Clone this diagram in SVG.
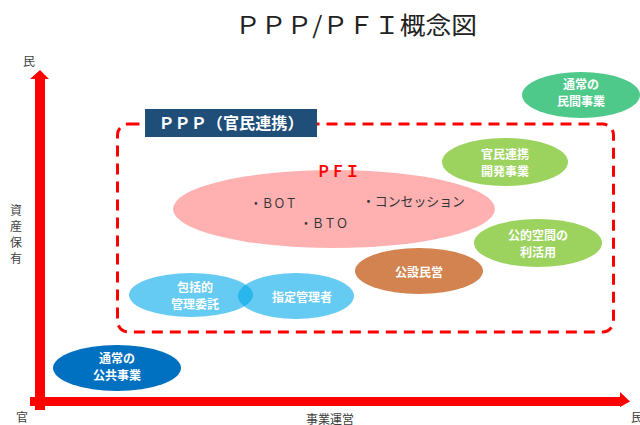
<svg xmlns="http://www.w3.org/2000/svg" width="640" height="425" viewBox="0 0 640 425">
<style>
.t{font-family:"Noto Sans CJK JP","Noto Sans",sans-serif;}
.w{fill:#fff;font-size:12px;font-weight:bold;text-anchor:middle;}
.g{fill:#404040;font-size:12px;}
.p{fill:#333;font-size:13px;}
</style>
<rect width="640" height="425" fill="#fff"/>
<text class="t" x="356" y="34" font-size="24" fill="#222" text-anchor="middle" textLength="242" lengthAdjust="spacingAndGlyphs">ＰＰＰ/ＰＦＩ概念図</text>
<g id="connectors">
  <path d="M35 410 V79 H30 L40 70 L49 79 H45 V410 Z" fill="#ff0000"/>
  <path d="M30 397 H620 V392 L630 401.5 L620 407 V406 H30 Z" fill="#ff0000"/>
</g>
<g id="axis-labels" class="t">
  <text class="g" x="29" y="66" text-anchor="middle">民</text>
  <text class="g" x="22" y="422" text-anchor="middle">官</text>
  <text class="g" x="631" y="422">民</text>
  <text class="g" x="16" y="215" text-anchor="middle">資</text>
  <text class="g" x="16" y="231" text-anchor="middle">産</text>
  <text class="g" x="16" y="247" text-anchor="middle">保</text>
  <text class="g" x="16" y="263" text-anchor="middle">有</text>
  <text class="g" x="330" y="424" text-anchor="middle">事業運営</text>
</g>
<g id="ppp-area">
  <rect x="117.5" y="124" width="496" height="208" rx="11" fill="none" stroke="#ff0000" stroke-width="3" stroke-dasharray="11 7"/>
  <rect x="145" y="109" width="172" height="28" fill="#1f4e79"/>
  <text class="t" x="231" y="129" font-size="16" font-weight="bold" fill="#fff" text-anchor="middle" textLength="145" lengthAdjust="spacingAndGlyphs">ＰＰＰ（官民連携）</text>
</g>
<g id="pfi">
  <ellipse cx="334" cy="209" rx="161" ry="39" fill="#ffb1b1"/>
  <text class="t" x="338" y="177" font-size="15" font-weight="bold" fill="#ff0000" text-anchor="middle" textLength="43" lengthAdjust="spacingAndGlyphs">ＰＦＩ</text>
  <text class="t p" x="250" y="208" textLength="47" lengthAdjust="spacingAndGlyphs">・ＢＯＴ</text>
  <text class="t p" x="300" y="228" textLength="48" lengthAdjust="spacingAndGlyphs">・ＢＴＯ</text>
  <text class="t p" x="362" y="206" textLength="103" lengthAdjust="spacingAndGlyphs">・コンセッション</text>
</g>
<g id="private">
  <ellipse cx="581" cy="95" rx="59" ry="23" fill="#4fc98a"/>
  <text class="t w" x="581" y="88.5">通常の</text>
  <text class="t w" x="581" y="106">民間事業</text>
</g>
<g id="dev">
  <ellipse cx="505" cy="162" rx="63" ry="24" fill="#9cd35e"/>
  <text class="t w" x="505" y="158.5">官民連携</text>
  <text class="t w" x="505" y="176">開発事業</text>
</g>
<g id="space">
  <ellipse cx="538" cy="243" rx="64" ry="24" fill="#9cd35e"/>
  <text class="t w" x="538" y="239.5">公的空間の</text>
  <text class="t w" x="538" y="257">利活用</text>
</g>
<g id="kosetsu">
  <ellipse cx="419" cy="271" rx="64" ry="23" fill="#d3834f"/>
  <text class="t w" x="419" y="277">公設民営</text>
</g>
<g id="hokatsu">
  <ellipse cx="191" cy="295" rx="62" ry="22" fill="#00a8e9" fill-opacity="0.6"/>
  <text class="t w" x="195" y="291.5">包括的</text>
  <text class="t w" x="195" y="309">管理委託</text>
</g>
<g id="shitei">
  <ellipse cx="296" cy="296" rx="58" ry="23" fill="#00a8e9" fill-opacity="0.6"/>
  <text class="t w" x="302" y="302">指定管理者</text>
</g>
<g id="public">
  <ellipse cx="117" cy="368" rx="64" ry="23" fill="#0070c0"/>
  <text class="t w" x="117" y="362.5">通常の</text>
  <text class="t w" x="117" y="380">公共事業</text>
</g>
</svg>
